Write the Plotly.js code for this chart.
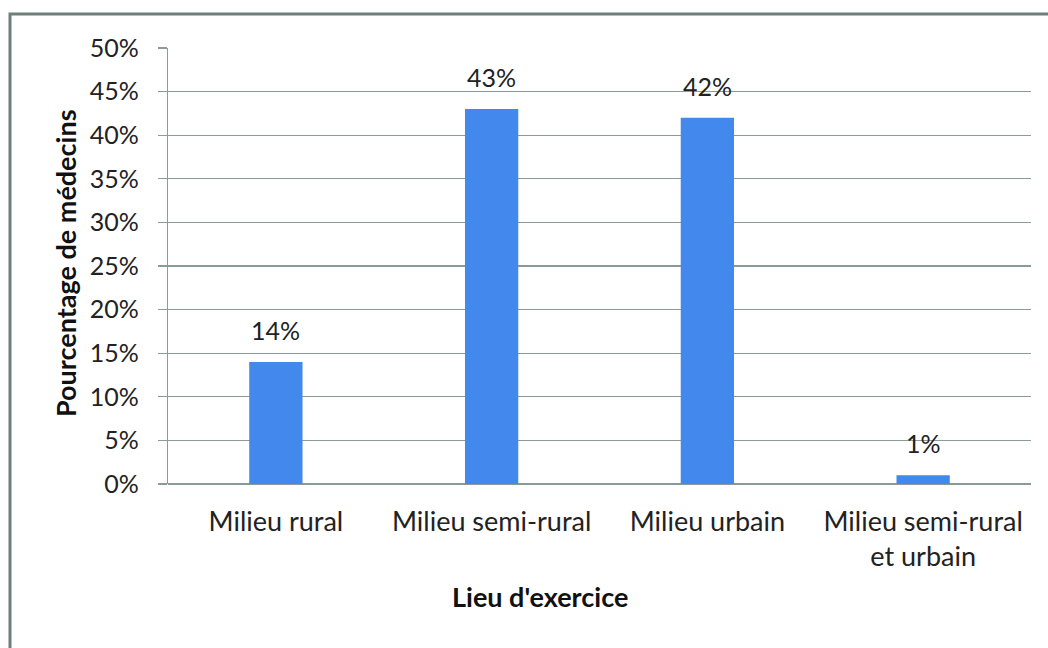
<!DOCTYPE html>
<html>
<head>
<meta charset="utf-8">
<script src="https://cdn.plot.ly/plotly-3.0.1.min.js"></script>
<style>
html,body{margin:0;padding:0;background:#fff;}
#chart{width:1048px;height:648px;}
</style>
</head>
<body>
<div id="chart"></div>
<script>
var categories = ["Milieu rural", "Milieu semi-rural", "Milieu urbain", "Milieu semi-rural<br>et urbain"];
var values = [14, 43, 42, 1];
var valueLabels = ["14%", "43%", "42%", "1%"];
var yTickVals = [0, 5, 10, 15, 20, 25, 30, 35, 40, 45, 50];
var yTickText = ["0%", "5%", "10%", "15%", "20%", "25%", "30%", "35%", "40%", "45%", "50%"];
var yTitle = "Pourcentage de médecins";
var xTitle = "Lieu d'exercice";

var FONT = "Lato, 'Open Sans', sans-serif";
var L = 168, R = 1031, T = 48, B = 484, W = 1048, H = 648;
var pw = R - L, ph = B - T;
function px(x){ return (x - L) / pw; }
function py(y){ return (B - y) / ph; }

var trace = {
  type: "bar",
  x: categories,
  y: values,
  marker: {color: "#4388ED", line: {width: 0}},
  hoverinfo: "none"
};

var annotations = categories.map(function(c, i){
  return {
    x: c, y: values[i], xref: "x", yref: "y",
    text: valueLabels[i], showarrow: false,
    yanchor: "bottom", yshift: 15,
    font: {family: FONT, size: 25, color: "#222"}
  };
});
annotations.push({
  xref: "paper", yref: "paper", x: px(540), y: py(596),
  text: "<b>" + xTitle + "</b>", showarrow: false,
  xanchor: "center", yanchor: "middle",
  font: {family: FONT, size: 27, color: "#111"}
});
annotations.push({
  xref: "paper", yref: "paper", x: px(65), y: py(263),
  text: "<b>" + yTitle + "</b>", showarrow: false, textangle: -90,
  xanchor: "center", yanchor: "middle",
  font: {family: FONT, size: 27, color: "#111"}
});

var layout = {
  width: W, height: H,
  margin: {l: L, r: W - R, t: T, b: H - B, pad: 0},
  paper_bgcolor: "#fff", plot_bgcolor: "#fff",
  showlegend: false,
  bargap: 0.753,
  xaxis: {
    type: "category",
    showgrid: false, zeroline: false,
    showline: false,
    ticks: "", ticklen: 0,
    ticklabelstandoff: 19,
    tickfont: {family: FONT, size: 27, color: "#222"},
    automargin: false
  },
  yaxis: {
    range: [0, 50],
    tickvals: yTickVals, ticktext: yTickText,
    showgrid: true, gridcolor: "#8a9b9a", gridwidth: 1.3,
    zeroline: true, zerolinecolor: "#8a9b9a", zerolinewidth: 1.5,
    showline: true, linecolor: "#8a9b9a", linewidth: 1.3,
    ticks: "outside", ticklen: 9, tickcolor: "#8a9b9a", tickwidth: 1.3,
    ticklabelstandoff: 14,
    tickfont: {family: FONT, size: 25, color: "#222"},
    automargin: false
  },
  annotations: annotations,
  shapes: [{
    type: "rect", xref: "paper", yref: "paper",
    x0: px(10), x1: px(1060), y0: py(14), y1: py(660),
    line: {color: "#6e7f7d", width: 3}, fillcolor: "rgba(0,0,0,0)", layer: "below"
  }]
};

Plotly.newPlot("chart", [trace], layout, {staticPlot: true, displayModeBar: false});
</script>
</body>
</html>
